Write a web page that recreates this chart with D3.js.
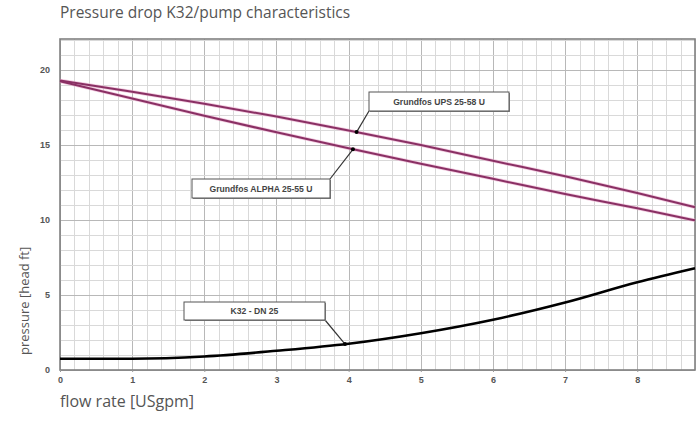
<!DOCTYPE html>
<html>
<head>
<meta charset="utf-8">
<script src="https://cdn.jsdelivr.net/npm/d3@7/dist/d3.min.js"></script>
<style>
  html, body { margin: 0; padding: 0; background: #fff; }
  svg { display: block; }
</style>
</head>
<body>
<script>
// ---- data ----
const flow = [0, 1, 2, 3, 4, 5, 6, 7, 8, 8.8];
const upsHead = [19.3, 18.55, 17.75, 16.9, 15.97, 15.0, 13.95, 12.92, 11.8, 10.85];
const alphaHead = [19.25, 18.1, 16.95, 15.85, 14.78, 13.75, 12.75, 11.73, 10.78, 9.98];
const k32Head = [0.75, 0.75, 0.9, 1.28, 1.75, 2.45, 3.35, 4.5, 5.85, 6.78];
const xTicks = [0, 1, 2, 3, 4, 5, 6, 7, 8];
const yTicks = [0, 5, 10, 15, 20];
const seriesNames = ["Grundfos UPS 25-58 U", "Grundfos ALPHA 25-55 U", "K32 - DN 25"];
const markerFlow = [4.11, 4.06, 3.95];
const titleText = "Pressure drop K32/pump characteristics";
const xLabel = "flow rate [USgpm]";
const yLabel = "pressure [head ft]";

// ---- layout ----
const W = 696, H = 424;
const L = 60, R = 695, T = 39, B = 370;
const svg = d3.select("body").append("svg").attr("width", W).attr("height", H);

const x = d3.scaleLinear().domain([0, 8.8]).range([L, R]);
const y = d3.scaleLinear().domain([0, 22.07]).range([B, T]);

// grid
const g = svg.append("g").attr("shape-rendering", "crispEdges");
const minorX = d3.range(0, 8.81, 0.2);
const minorY = d3.range(0, 22.1, 1);
g.selectAll(".vx").data(minorX).join("line")
  .attr("x1", d => Math.round(x(d)) + 0.5).attr("x2", d => Math.round(x(d)) + 0.5).attr("y1", T).attr("y2", B)
  .attr("stroke", d => Math.abs(d - Math.round(d)) < 1e-6 ? "#b8b8b8" : "#d9d9d9")
  .attr("stroke-width", 1);
g.selectAll(".hy").data(minorY).join("line")
  .attr("x1", L).attr("x2", R).attr("y1", d => Math.round(y(d)) + 0.5).attr("y2", d => Math.round(y(d)) + 0.5)
  .attr("stroke", d => d % 5 === 0 ? "#b8b8b8" : "#d9d9d9")
  .attr("stroke-width", 1);

// frame
svg.append("rect").attr("x", L).attr("y", T).attr("width", R - L).attr("height", B - T)
  .attr("fill", "none").attr("stroke", "#808080").attr("stroke-width", 1.6);

// axes
const xAxis = d3.axisBottom(x).tickValues(xTicks).tickSize(2).tickFormat(d3.format("d"));
const yAxis = d3.axisLeft(y).tickValues(yTicks).tickSize(0).tickFormat(d3.format("d"));
const gx = svg.append("g").attr("transform", `translate(0,${B})`).call(xAxis);
const gy = svg.append("g").attr("transform", `translate(${L},0)`).call(yAxis);
[gx, gy].forEach(a => {
  a.select(".domain").remove();
  a.selectAll("line").attr("stroke", "#999");
  a.selectAll("text").attr("font-family", "Liberation Sans, Arial, sans-serif")
    .attr("font-size", 9).attr("font-weight", "bold").attr("fill", "#555");
});
gx.selectAll("text").attr("dy", "0.71em").attr("y", 7);
gy.selectAll("text").attr("x", -10);

// curves
const line = d3.line().x(d => x(d[0])).y(d => y(d[1])).curve(d3.curveMonotoneX);
const seriesData = [upsHead, alphaHead, k32Head].map(s => flow.map((f, i) => [f, s[i]]));
const colors = ["#8a3064", "#8a3064", "#000"];
const widths = [2, 2, 2.6];
seriesData.slice(0, 2).forEach(d => {
  svg.append("path").attr("d", line(d)).attr("fill", "none")
    .attr("stroke", "#e9a9cb").attr("stroke-width", 3.6).attr("opacity", 0.6);
});
seriesData.forEach((d, i) => {
  svg.append("path").attr("d", line(d)).attr("fill", "none")
    .attr("stroke", colors[i]).attr("stroke-width", widths[i]);
});

// annotations
function interp(arr, f) {
  const k = d3.bisectRight(flow, f) - 1;
  const i = Math.max(0, Math.min(flow.length - 2, k));
  const t = (f - flow[i]) / (flow[i + 1] - flow[i]);
  return arr[i] + t * (arr[i + 1] - arr[i]);
}
const heads = [upsHead, alphaHead, k32Head];
const boxes = [
  { bx: 369, by: 92, bw: 140, bh: 19, ax: 369, ay: 111 },
  { bx: 192, by: 179, bw: 138, bh: 19, ax: 330, ay: 179 },
  { bx: 184, by: 302, bw: 141, bh: 18, ax: 325, ay: 320 }
];
seriesNames.forEach((name, i) => {
  const b = boxes[i];
  const mx = x(markerFlow[i]), my = y(interp(heads[i], markerFlow[i]));
  svg.append("line").attr("x1", b.ax).attr("y1", b.ay).attr("x2", mx).attr("y2", my)
    .attr("stroke", "#333").attr("stroke-width", 1.2);
  svg.append("circle").attr("cx", mx).attr("cy", my).attr("r", 2).attr("fill", "#000");
  svg.append("rect").attr("x", b.bx + 1).attr("y", b.by + 1).attr("width", b.bw).attr("height", b.bh)
    .attr("fill", "#888");
  svg.append("rect").attr("x", b.bx).attr("y", b.by).attr("width", b.bw).attr("height", b.bh)
    .attr("fill", "#fff").attr("stroke", "#555").attr("stroke-width", 1);
  svg.append("text").attr("x", b.bx + b.bw / 2).attr("y", b.by + b.bh / 2 + 3)
    .attr("text-anchor", "middle").attr("font-family", "Liberation Sans, Arial, sans-serif")
    .attr("font-size", 8.6).attr("font-weight", "bold").attr("fill", "#444").text(name);
});

// title and axis labels
svg.append("text").attr("x", 60).attr("y", 18).attr("font-family", "Open Sans, sans-serif")
  .attr("font-size", 15.5).attr("fill", "#555").text(titleText);
svg.append("text").attr("x", 60).attr("y", 407).attr("font-family", "Open Sans, sans-serif")
  .attr("font-size", 16).attr("fill", "#555").text(xLabel);
svg.append("text").attr("transform", "translate(29,355) rotate(-90)")
  .attr("font-family", "Open Sans, sans-serif").attr("font-size", 13).attr("fill", "#555")
  .text(yLabel);
</script>
</body>
</html>
